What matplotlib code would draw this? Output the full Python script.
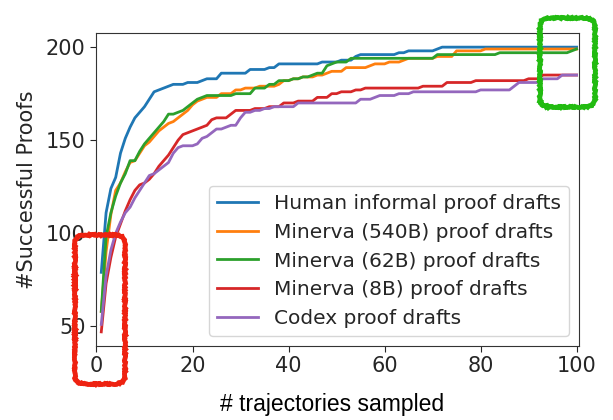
import numpy as np
import matplotlib
matplotlib.use("Agg")
import matplotlib.pyplot as plt
from matplotlib.patches import FancyBboxPatch

# number of trajectories sampled (1..100)
trajectories = np.arange(1, 101)

human = (
    [79, 111, 124, 130, 143, 151, 157, 162, 165, 168, 172, 176, 177, 178, 179, 180, 180, 180, 181, 181]
    + [181, 182, 183, 183, 183, 186, 186, 186, 186, 186, 186, 188, 188, 188, 188, 189, 189, 191, 191, 191]
    + [191, 191, 191, 191, 191, 191, 192, 192, 192, 192, 193, 193, 193, 195, 196, 196, 196, 196, 196, 196]
    + [196, 196, 197, 197, 198, 198, 198, 198, 198, 198, 199] + [200] * 29
)
minerva_540b = (
    [58, 90, 110, 123, 127, 133, 138, 139, 143, 147, 149, 152, 155, 157, 159, 160, 162, 164, 166, 169]
    + [171, 172, 173, 173, 173, 175, 175, 175, 177, 177, 178, 178, 178, 179, 179, 179, 179, 180, 182, 182]
    + [183, 183, 184, 184, 184, 185, 185, 186, 187, 187, 187, 189, 189, 189, 189, 189, 190, 191, 191, 191]
    + [192, 192, 192, 193, 194, 194, 194, 194, 194, 194, 195, 195, 195, 195, 198, 198, 198, 198, 198, 198]
    + [199] * 20
)
minerva_62b = (
    [58, 98, 111, 120, 127, 132, 139, 139, 144, 148, 151, 154, 157, 160, 164, 164, 165, 166, 168, 170]
    + [172, 173, 174, 174, 174, 174, 174, 174, 175, 175, 175, 175, 178, 178, 178, 180, 180, 182, 182, 182]
    + [183, 183, 184, 184, 185, 186, 186, 190, 191, 192, 192, 192] + [194] * 18
    + [196] * 13 + [197] * 15 + [198, 199]
)
minerva_8b = (
    [47, 73, 87, 98, 105, 112, 118, 123, 126, 127, 129, 132, 136, 139, 142, 146, 150, 153, 154, 155]
    + [156, 157, 158, 161, 162, 162, 162, 164, 166, 166, 166, 166, 167, 167, 167, 168, 168, 168, 170, 170]
    + [170, 171, 171, 171, 171, 173, 173, 173, 175, 175, 176, 176, 176, 177, 177] + [178] * 12
    + [179] * 5 + [181] * 6 + [182] * 11 + [183] * 3 + [185] * 8
)
codex = (
    [51, 77, 91, 100, 106, 111, 114, 119, 123, 127, 131, 132, 134, 136, 138, 143, 146, 147, 147, 147]
    + [148, 151, 152, 154, 156, 156, 157, 158, 158, 162, 165, 165, 166, 166, 167, 167, 168, 168, 168, 168]
    + [168] + [170] * 13 + [172, 172, 172, 173, 174, 174, 174, 174, 175, 175, 175]
    + [176] * 14 + [177] * 7 + [179] + [181] * 5 + [183] * 4 + [185] * 4
)

series = [
    ("Human informal proof drafts", human, "#1f77b4"),
    ("Minerva (540B) proof drafts", minerva_540b, "#ff7f0e"),
    ("Minerva (62B) proof drafts", minerva_62b, "#2ca02c"),
    ("Minerva (8B) proof drafts", minerva_8b, "#d62728"),
    ("Codex proof drafts", codex, "#9467bd"),
]

W, H = 613, 420
fig = plt.figure(figsize=(W / 100, H / 100), dpi=100)
ax = fig.add_axes([96 / W, 1 - 346 / H, (579 - 96) / W, (346 - 33) / H])

for label, values, color in series:
    ax.plot(trajectories, values, color=color, lw=2.0, label=label)

ax.set_xlim(-0.1, 100.5)
ax.set_ylim(39.4, 207.6)
ax.set_xticks([0, 20, 40, 60, 80, 100])
ax.set_yticks([50, 100, 150, 200])
ax.tick_params(labelsize=15, colors="#262626", length=4)
for s in ax.spines.values():
    s.set_color("#333333")
ax.set_ylabel("#Successful Proofs", fontsize=15, color="#262626", labelpad=6)
ax.legend(loc="lower right", fontsize=14.5, borderaxespad=0.5, labelcolor="#262626",
          handlelength=2.0, labelspacing=0.48)

# x label pasted in a different font
fig.text(332 / W, 1 - 405 / H, "# trajectories sampled", fontsize=16.5,
         family="Liberation Sans", color="black", ha="center", va="center")

# hand-drawn highlight boxes (pixel coordinates)
def sketch_box(x0, y0, x1, y1, color):
    box = FancyBboxPatch((x0 / W, 1 - y1 / H), (x1 - x0) / W, (y1 - y0) / H,
                         boxstyle="round,pad=0,rounding_size=0.018",
                         transform=fig.transFigure, fill=False,
                         edgecolor=color, lw=3.5, zorder=10)
    box.set_sketch_params(scale=0.6, length=2, randomness=8)
    fig.add_artist(box)

sketch_box(75, 235, 125, 384, "#ee2211")
sketch_box(540, 18, 595, 107, "#22bb11")

fig.savefig("out.png", dpi=100)
